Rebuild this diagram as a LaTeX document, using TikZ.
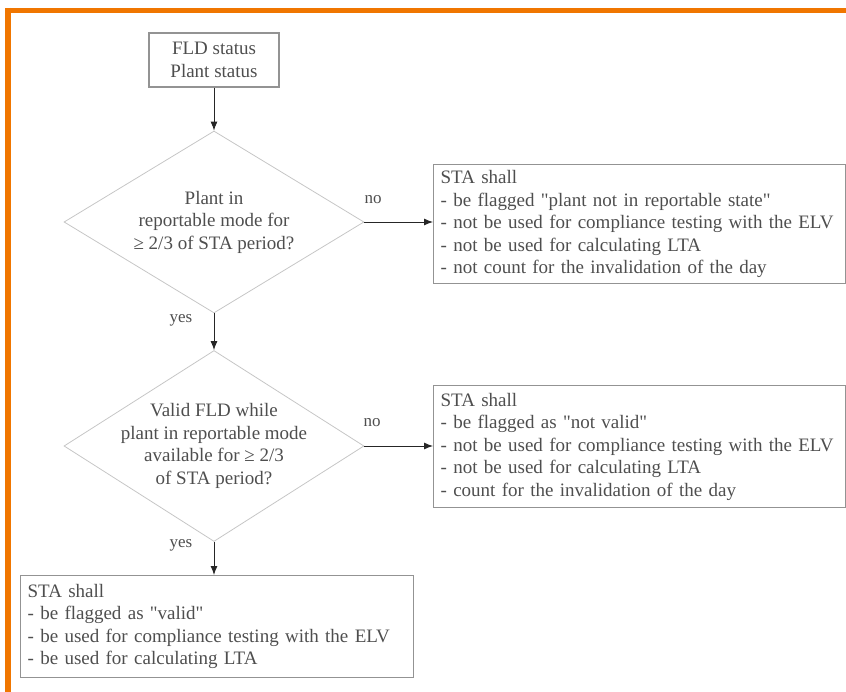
\documentclass[tikz,border=0pt]{standalone}
\usepackage{fontspec}
\setmainfont{Liberation Serif}
\usetikzlibrary{shapes.geometric,arrows.meta}
\definecolor{frameorange}{RGB}{240,118,0}
\definecolor{textgray}{RGB}{78,78,78}
\begin{document}
\begin{tikzpicture}
    [
        x=1pt, y=-1pt,
        font=\fontsize{19}{22.5}\selectfont,
        status/.style={rectangle, draw=gray!85, line width=1.2pt, text=textgray, minimum width=130pt, minimum height=54pt, align=center, inner sep=0pt},
        decision/.style={diamond, draw=gray!45, line width=0.8pt, text=textgray, minimum width=300pt, minimum height=182pt, align=center, inner sep=-20pt},
        outcome/.style={rectangle, draw=gray!85, line width=1.2pt, text=textgray, align=left, inner xsep=7pt, inner ysep=0pt, anchor=north west},
        answer/.style={text=textgray, font=\fontsize{17}{20}\selectfont},
        flow/.style={-{Latex[length=9pt,width=7pt]}, line width=0.9pt, black!85},
    ]
    \useasboundingbox (0,0) rectangle (846,692);
    % orange frame, open to the right and below
    \draw [frameorange, line width=5pt] (5,10.5) -- (846,10.5);
    \draw [frameorange, line width=6pt] (8,8) -- (8,692);
    \node (status) at (214,60) [status] {FLD status\\Plant status};
    \node (q1) at (214,222) [decision] {Plant in\\reportable mode for\\≥ 2/3 of STA period?};
    \node (q2) at (214,446) [decision] {Valid FLD while\\plant in reportable mode\\available for ≥ 2/3\\of STA period?};
    \node (flag1) at (433,164) [outcome, text width=398pt, minimum height=119pt]
        {STA shall\\- be flagged \textquotedbl plant not in reportable state\textquotedbl\\- not be used for compliance testing with the ELV\\- not be used for calculating LTA\\- not count for the invalidation of the day};
    \node (flag2) at (433,385) [outcome, text width=398pt, minimum height=122pt]
        {STA shall\\- be flagged as \textquotedbl not valid\textquotedbl\\- not be used for compliance testing with the ELV\\- not be used for calculating LTA\\- count for the invalidation of the day};
    \node (valid) at (20,575) [outcome, text width=379pt, minimum height=102pt]
        {STA shall\\- be flagged as \textquotedbl valid\textquotedbl\\- be used for compliance testing with the ELV\\- be used for calculating LTA};
    \node (no1) at (373,200) [answer] {no};
    \node (yes1) at (181,320) [answer] {yes};
    \node (no2) at (372,423) [answer] {no};
    \node (yes2) at (181,545) [answer] {yes};
    \draw [flow] (status) -- (q1);
    \draw [flow] (q1.east) -- (q1.east -| flag1.west);
    \draw [flow] (q1) -- (q2);
    \draw [flow] (q2.east) -- (q2.east -| flag2.west);
    \draw [flow] (q2.south) -- (q2.south |- valid.north);
\end{tikzpicture}
\end{document}
